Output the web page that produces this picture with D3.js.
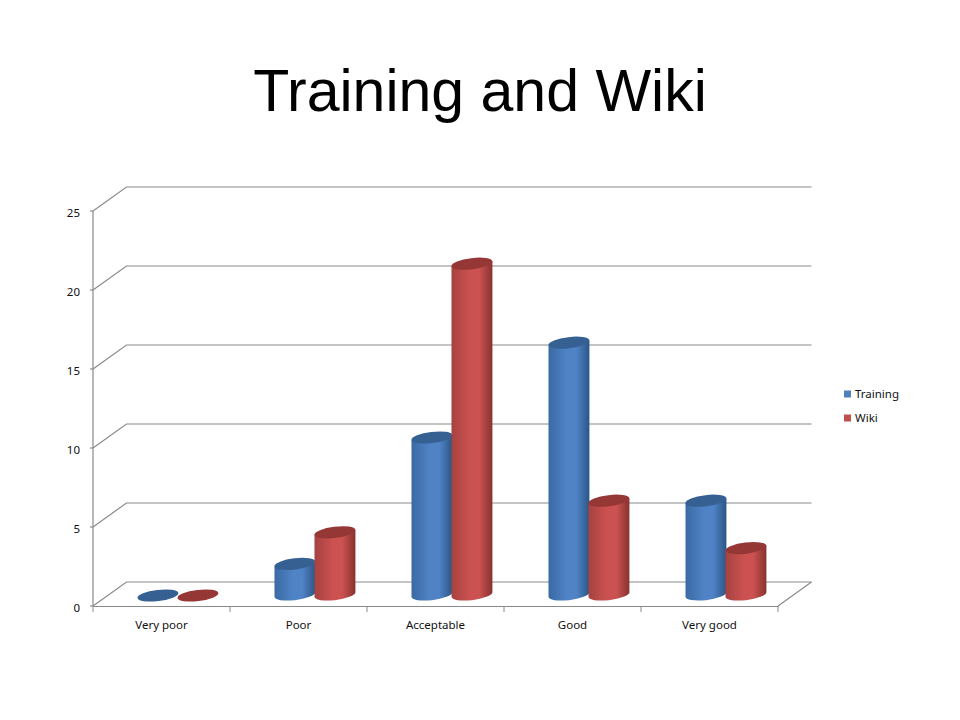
<!DOCTYPE html>
<html><head><meta charset="utf-8">
<script src="https://cdn.jsdelivr.net/npm/d3@7"></script>
<style>
html,body{margin:0;padding:0;background:#fff}
svg{display:block}
text{font-family:"Noto Sans",sans-serif;fill:#111}
</style></head><body>
<svg id="c" width="960" height="720"></svg>
<script>
const categories = ["Very poor","Poor","Acceptable","Good","Very good"];
const training = [0,2,10,16,6];
const wiki = [0,4,21,6,3];
const yTicks = [0,5,10,15,20,25];
const seriesNames = ["Training","Wiki"];
const seriesColors = [
  {left:"#3a6aa3",edge:"#2c5585",mid:"#4f83c6",top:"#366092",swatch:"#4f81bd"},
  {left:"#a54240",edge:"#883230",mid:"#cb5250",top:"#953735",swatch:"#c0504d"}
];
const depthX=33.5,depthY=24,axisColor="#8a8a8a";
const svg=d3.select("#c");
const x=d3.scaleBand().domain(categories).range([93,778]);
const y=d3.scaleLinear().domain([0,25]).range([606,211]);
const inner=d3.scaleBand().domain(seriesNames).range([0,80]);
const defs=svg.append("defs");
seriesColors.forEach((c,i)=>{
  const g=defs.append("linearGradient").attr("id","g"+i).attr("x1",0).attr("x2",1).attr("y1",0).attr("y2",0);
  [[0,c.left],[.45,c.mid],[.68,c.mid],[1,c.edge]].forEach(s=>g.append("stop").attr("offset",s[0]).attr("stop-color",s[1]));
});
svg.append("text").text("Training and Wiki").attr("x",480).attr("y",111)
  .attr("text-anchor","middle").style("font-family","'Liberation Sans',Arial,sans-serif").style("font-size","59px").style("fill","#000");
// walls
const grid=svg.append("g").attr("fill","none").attr("stroke",axisColor).attr("stroke-width",1.2);
yTicks.forEach(t=>{
  grid.append("path").attr("d",d3.line()([[x.range()[0],y(t)],[x.range()[0]+depthX,y(t)-depthY],[x.range()[1]+depthX,y(t)-depthY]]));
});
grid.append("path").attr("d",d3.line()([[x.range()[1],y(0)],[x.range()[1]+depthX,y(0)-depthY]]));
// axes
const axL=svg.append("g").attr("transform",`translate(${x.range()[0]},1.5)`)
  .call(d3.axisLeft(y).tickValues(yTicks).tickSize(0).tickPadding(13));
axL.select("path").remove();
axL.selectAll("text").style("font-size","11.5px").style("font-family","'Noto Sans',sans-serif").style("fill","#111");
const leftAxis=svg.append("g").attr("stroke",axisColor).attr("stroke-width",1.2);
leftAxis.append("line").attr("x1",x.range()[0]).attr("x2",x.range()[0]).attr("y1",y(25)).attr("y2",y(0));
yTicks.forEach(t=>leftAxis.append("line").attr("x1",x.range()[0]-3).attr("x2",x.range()[0]).attr("y1",y(t)).attr("y2",y(t)));
const axB=svg.append("g").attr("transform",`translate(0,${y(0)})`)
  .call(d3.axisBottom(x).tickSize(0).tickPadding(15));
axB.select("path").attr("stroke",axisColor).attr("stroke-width",1.2);
axB.selectAll("text").style("font-size","11.5px").style("font-family","'Noto Sans',sans-serif").style("fill","#111");
axB.selectAll("line.edge").data(categories.concat([null])).enter().append("line").attr("class","edge")
  .attr("x1",d=>d?x(d):x.range()[1]).attr("x2",d=>d?x(d):x.range()[1]).attr("y1",0).attr("y2",6)
  .attr("stroke",axisColor).attr("stroke-width",1);
// cylinders
const tilt=-7*Math.PI/180, ryR=5.6;
function cyl(cx,v,i,g){
  const rx=inner.bandwidth()/2+.6;
  const base=y(0)-11.5, top=y(v)-10.5;
  const c=Math.cos(tilt),s=Math.sin(tilt);
  const hw=Math.sqrt(rx*rx*c*c+ryR*ryR*s*s);
  const off=(rx*rx-ryR*ryR)*s*c/hw;
  const deg=tilt*180/Math.PI;
  if(v>0){
    g.append("path").attr("fill",`url(#g${i})`).attr("d",
      `M${cx-hw},${top-off}L${cx-hw},${base-off}A${rx},${ryR} ${deg} 0 0 ${cx+hw},${base+off}L${cx+hw},${top+off}Z`);
  }
  g.append("ellipse").attr("cx",0).attr("cy",0).attr("rx",rx).attr("ry",ryR)
    .attr("transform",`translate(${cx},${top}) rotate(${deg})`).attr("fill",seriesColors[i].top);
}
const bars=svg.append("g");
categories.forEach((cat,k)=>{
  const c0=x(cat)+x.bandwidth()/2+depthX/2-40;
  [training,wiki].forEach((arr,i)=>{
    cyl(c0+inner(seriesNames[i])+inner.bandwidth()/2-.3,arr[k],i,bars);
  });
});
// legend
const lg=svg.append("g");
const ly=d3.scalePoint().domain(seriesNames).range([394,418]);
seriesNames.forEach((n,i)=>{
  lg.append("rect").attr("x",844).attr("y",ly(n)-3.5).attr("width",7).attr("height",7).attr("fill",seriesColors[i].swatch);
  lg.append("text").text(n).attr("x",855).attr("y",ly(n)+4).style("font-size","11.5px");
});
</script></body></html>
